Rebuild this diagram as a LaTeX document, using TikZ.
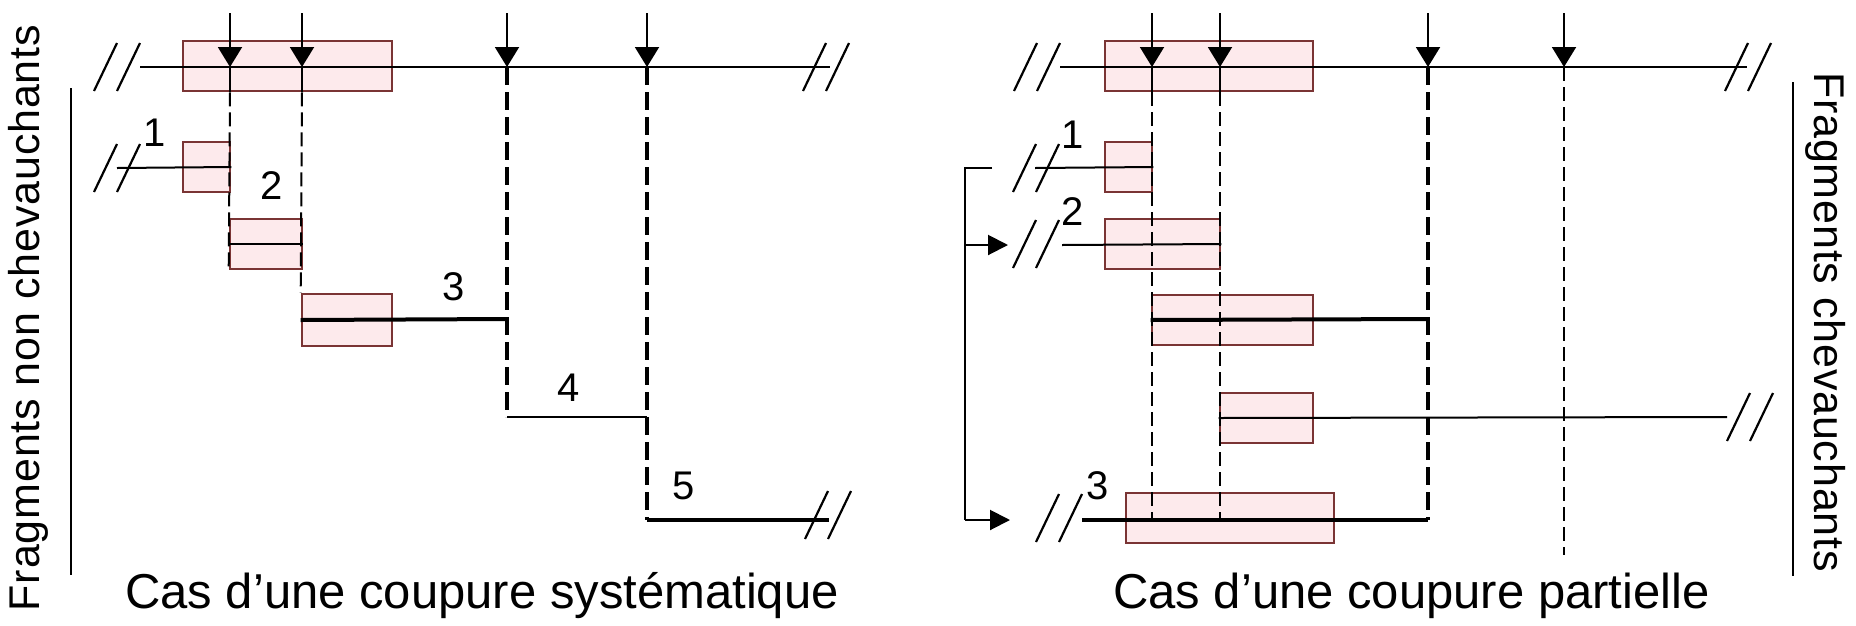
\documentclass[tikz,border=0pt]{standalone}
\usepackage{fontspec}
\setmainfont{Liberation Sans}
\usetikzlibrary{positioning, arrows.meta}
\definecolor{fragline}{RGB}{122,52,52}
\definecolor{fragfill}{RGB}{253,234,236}

\begin{document}
\begin{tikzpicture}[
    x=1pt, y=-1pt,
    frag/.style={rectangle, draw=fragline, fill=fragfill, line width=2.6pt,
                 inner sep=0pt, minimum height=50pt},
    seg/.style={line width=2pt},
    bold/.style={line width=4pt},
    cutline/.style={line width=2pt, dash pattern=on 14pt off 6pt},
    boldcut/.style={line width=4pt, dash pattern=on 18pt off 7pt},
    knife/.style={-{Triangle[length=20pt, width=24pt]}, line width=2pt},
    push/.style={-{Triangle[length=20pt, width=20pt]}, line width=2pt},
    num/.style={font=\fontsize{40}{44}\selectfont, inner sep=0pt},
    caption/.style={font=\fontsize{49}{54}\selectfont, inner sep=0pt},
    side/.style={font=\fontsize{43}{48}\selectfont\addfontfeatures{LetterSpace=2},
                 inner sep=0pt},
    brk/.pic={\draw[line width=2.2pt] (-23,24) -- (0,-24) (0,24) -- (23,-24);}
]
  \useasboundingbox (0,0) rectangle (1856,625);

  % side labels
  \node[side, rotate=90] (sideL) at (28,318) {Fragments non chevauchants};
  \draw[seg] (71,88) -- (71,575);
  \node[side, rotate=-90] (sideR) at (1826,322) {Fragments chevauchants};
  \draw[seg] (1793,82) -- (1793,576);

  % coupure systematique
  \node[frag, minimum width=209pt] (topL) at (287.5,66) {};
  \node[frag, minimum width=47pt] (fa1) at (206.5,167) {};
  \node[frag, minimum width=72pt] (fa2) at (266,244) {};
  \node[frag, minimum width=90pt, minimum height=52pt] (fa3) at (347,320) {};

  % coupure partielle
  \node[frag, minimum width=208pt] (topR) at (1209,66) {};
  \node[frag, minimum width=47pt] (fb1) at (1128.5,167) {};
  \node[frag, minimum width=115pt] (fb2) at (1162.5,244) {};
  \node[frag, minimum width=161pt] (fb3) at (1232.5,320) {};
  \node[frag, minimum width=93pt] (fb4) at (1266.5,418) {};
  \node[frag, minimum width=208pt] (fb5) at (1230,518) {};

  \foreach \x [count=\i] in {230,302,507,647,1152,1220,1428,1564}
    \coordinate (cut\i) at (\x,67);

  \coordinate (j3) at (507,319);
  \coordinate (s4) at (507,417);
  \coordinate (j4) at (647,417);
  \coordinate (s5) at (647,520);
  \coordinate (e5) at (829,520);
  \coordinate (k3) at (1428,319);
  \coordinate (k5) at (1428,520);
  \coordinate (end4) at (1727,417);

  % fragments, left
  \draw[seg] (140,67) -- (830,67);
  \draw[seg] (117,168) -- (fa1.east);
  \draw[seg] (fa2.west) -- (fa2.east);
  \draw[bold] (fa3.west) -- (j3);
  \draw[seg] (s4) -- (j4);
  \draw[bold] (s5) -- (e5);
  \draw[seg] (cut1) -- (topL.south -| cut1);
  \draw[seg] (cut2) -- (topL.south -| cut2);
  \draw[cutline] (topL.south -| cut1) -- (fa2.south west);
  \draw[cutline] (topL.south -| cut2) -- (fa3.north west);
  \draw[boldcut] (cut3) -- (s4);
  \draw[boldcut] (cut4) -- (s5);

  % fragments, right
  \draw[seg] (1060,67) -- (1747,67);
  \draw[seg] (1035,168) -- (fb1.east);
  \draw[seg] (1062,245) -- (fb2.east);
  \draw[bold] (fb3.west) -- (k3);
  \draw[seg] (fb4.west) -- (end4);
  \draw[bold] (1082,520) -- (k5);
  \draw[seg] (cut5) -- (topR.south -| cut5);
  \draw[seg] (cut6) -- (topR.south -| cut6);
  \draw[cutline] (topR.south -| cut5) -- (cut5 |- k5);
  \draw[cutline] (topR.south -| cut6) -- (cut6 |- k5);
  \draw[boldcut] (cut7) -- (k5);
  \draw[cutline] (cut8) -- (1564,555);

  % reprise du fragment 1
  \draw[seg] (992,168) -- (965,168) -- (965,520);
  \draw[push] (965,520) -- (1010,520);
  \draw[push] (965,245) -- (1008,245);

  % cuts
  \foreach \i in {1,...,8}
    \draw[knife] (cut\i) ++(0,-54) -- (cut\i);

  \pic at (117,67) {brk};
  \pic at (826,67) {brk};
  \pic at (117,168) {brk};
  \pic at (828,515) {brk};
  \pic at (1037,67) {brk};
  \pic at (1748,67) {brk};
  \pic at (1036,168) {brk};
  \pic at (1036,244) {brk};
  \pic at (1750,417) {brk};
  \pic at (1059,518) {brk};

  \node[num] (n1) at (155,133) {1};
  \node[num] (n2) at (272,186) {2};
  \node[num] (n3) at (454,287) {3};
  \node[num] (n4) at (569,388) {4};
  \node[num] (n5) at (684,486) {5};
  \node[num] (m1) at (1073,135) {1};
  \node[num] (m2) at (1073,212) {2};
  \node[num] (m3) at (1098,486) {3};

  \node[caption, anchor=base west] (capL) at (125,608) {Cas d'une coupure systématique};
  \node[caption, anchor=base west] (capR) at (1113,608) {Cas d'une coupure partielle};
\end{tikzpicture}
\end{document}
